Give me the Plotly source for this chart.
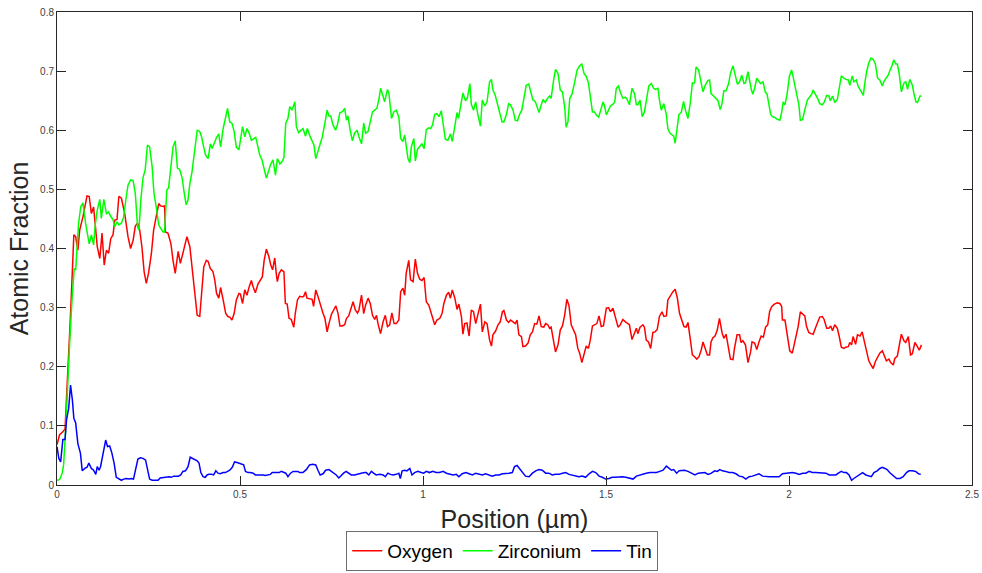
import plotly.graph_objects as go

OXYGEN = [
(0.000,0.068),(0.007,0.085),(0.016,0.090),(0.022,0.095),(0.027,0.160),(0.031,0.228),(0.035,0.262),(0.039,0.318),(0.043,0.370),(0.046,0.423),
(0.051,0.420),(0.057,0.397),(0.062,0.431),(0.071,0.454),(0.082,0.489),(0.088,0.488),(0.094,0.459),(0.100,0.470),(0.105,0.437),(0.110,0.403),
(0.117,0.383),(0.123,0.426),(0.129,0.372),(0.135,0.397),(0.141,0.392),(0.147,0.417),(0.153,0.423),(0.158,0.448),(0.164,0.449),(0.169,0.488),
(0.176,0.485),(0.185,0.459),(0.194,0.420),(0.201,0.400),(0.208,0.414),(0.214,0.438),(0.220,0.443),(0.226,0.431),(0.232,0.403),(0.238,0.361),
(0.244,0.341),(0.250,0.358),(0.258,0.392),(0.264,0.431),(0.271,0.454),(0.278,0.476),(0.283,0.472),(0.290,0.471),(0.294,0.472),(0.296,0.428),
(0.303,0.426),(0.311,0.409),(0.317,0.380),(0.323,0.358),(0.331,0.395),(0.337,0.375),(0.344,0.392),(0.355,0.420),(0.363,0.403),(0.369,0.369),
(0.376,0.330),(0.383,0.287),
(0.390,0.285),(0.395,0.324),(0.401,0.369),(0.408,0.380),(0.413,0.378),(0.419,0.366),(0.426,0.361),(0.431,0.347),(0.436,0.324),(0.442,0.316),
(0.447,0.334),(0.454,0.313),(0.461,0.290),(0.467,0.285),(0.472,0.284),(0.478,0.279),(0.484,0.290),(0.490,0.313),(0.497,0.324),(0.501,0.323),
(0.507,0.307),(0.513,0.330),(0.519,0.321),(0.525,0.335),(0.531,0.346),(0.536,0.335),(0.542,0.325),(0.549,0.340),(0.556,0.346),(0.561,0.352),
(0.566,0.380),(0.572,0.399),(0.579,0.386),(0.584,0.372),(0.589,0.364),(0.595,0.384),(0.599,0.358),(0.602,0.344),(0.607,0.358),(0.613,0.364),
(0.620,0.361),(0.624,0.307),(0.629,0.306),(0.634,0.282),(0.640,0.280),(0.647,0.267),(0.651,0.290),(0.657,0.313),(0.663,0.319),(0.670,0.318),
(0.674,0.319),(0.679,0.327),(0.683,0.316),(0.691,0.315),(0.697,0.314),(0.701,0.302),(0.707,0.330),(0.713,0.319),(0.720,0.302),(0.727,0.290),
(0.732,0.282),(0.738,0.259),(0.743,0.273),(0.750,0.289),(0.756,0.296),(0.762,0.303),(0.768,0.290),(0.773,0.269),(0.779,0.269),
(0.786,0.271),(0.791,0.282),(0.797,0.286),(0.802,0.296),(0.809,0.310),(0.815,0.296),(0.821,0.291),(0.825,0.296),(0.832,0.321),(0.838,0.290),
(0.843,0.304),(0.850,0.316),(0.856,0.307),(0.862,0.287),(0.868,0.280),(0.873,0.287),(0.877,0.273),(0.884,0.256),(0.891,0.276),(0.897,0.287),
(0.903,0.268),(0.909,0.271),(0.915,0.291),(0.921,0.273),(0.927,0.273),(0.934,0.279),(0.939,0.327),(0.945,0.333),(0.950,0.321),(0.954,0.358),
(0.961,0.380),(0.966,0.347),(0.973,0.344),(0.979,0.382),(0.985,0.358),(0.991,0.348),(0.997,0.346),(1.003,0.351),(1.009,0.310),(1.016,0.304),
(1.023,0.290),(1.027,0.282),(1.032,0.271),(1.038,0.279),(1.046,0.282),(1.052,0.290),(1.057,0.307),(1.064,0.321),(1.070,0.326),(1.075,0.316),
(1.080,0.330),(1.087,0.316),(1.093,0.297),(1.098,0.306),(1.105,0.285),(1.109,0.255),(1.114,0.273),(1.120,0.274),(1.126,0.252),(1.132,0.296),
(1.138,0.293),(1.144,0.273),(1.150,0.287),(1.157,0.306),(1.162,0.259),(1.169,0.276),(1.175,0.273),
(1.182,0.245),(1.187,0.235),(1.191,0.254),(1.198,0.260),(1.205,0.271),(1.211,0.276),(1.217,0.293),(1.221,0.295),(1.228,0.279),(1.234,0.275),
(1.239,0.279),(1.246,0.276),(1.252,0.273),(1.257,0.279),(1.262,0.254),(1.269,0.251),(1.273,0.234),(1.280,0.235),(1.287,0.240),(1.293,0.254),
(1.299,0.259),(1.305,0.273),(1.311,0.272),(1.317,0.286),(1.323,0.268),(1.330,0.267),(1.335,0.273),(1.341,0.271),(1.346,0.265),(1.350,0.267),
(1.357,0.242),(1.362,0.225),(1.369,0.237),(1.375,0.262),(1.381,0.269),(1.387,0.287),(1.393,0.314),(1.399,0.303),(1.405,0.271),(1.412,0.262),
(1.417,0.254),(1.423,0.231),(1.428,0.223),(1.434,0.207),(1.440,0.220),(1.446,0.235),(1.452,0.231),(1.457,0.245),(1.463,0.269),(1.469,0.271),
(1.475,0.273),(1.481,0.286),(1.487,0.268),(1.493,0.269),(1.501,0.299),(1.507,0.300),(1.512,0.293),(1.519,0.299),(1.525,0.285),(1.533,0.267),
(1.539,0.271),(1.546,0.280),(1.553,0.276),(1.560,0.273),(1.564,0.271),(1.571,0.246),
(1.578,0.256),(1.583,0.265),(1.587,0.256),(1.593,0.267),(1.601,0.271),(1.605,0.267),(1.610,0.245),(1.616,0.242),(1.622,0.231),(1.628,0.258),
(1.634,0.259),(1.640,0.263),(1.646,0.285),(1.653,0.293),(1.658,0.285),(1.665,0.286),(1.669,0.313),(1.676,0.321),(1.683,0.327),(1.689,0.331),
(1.695,0.316),(1.701,0.290),(1.707,0.280),(1.713,0.268),(1.719,0.267),(1.724,0.275),(1.730,0.248),(1.736,0.220),(1.742,0.217),(1.748,0.213),
(1.754,0.217),(1.760,0.228),(1.765,0.242),(1.771,0.231),(1.777,0.220),(1.783,0.220),(1.787,0.242),(1.792,0.249),(1.798,0.252),(1.804,0.262),
(1.810,0.282),(1.817,0.258),(1.822,0.248),(1.828,0.255),(1.835,0.228),(1.840,0.213),(1.847,0.212),(1.851,0.231),(1.858,0.254),(1.865,0.254),
(1.869,0.241),(1.874,0.244),(1.881,0.237),(1.888,0.207),(1.895,0.225),(1.899,0.242),(1.906,0.240),(1.912,0.229),(1.918,0.242),(1.924,0.252),
(1.930,0.250),(1.936,0.267),(1.942,0.271),(1.947,0.293),(1.953,0.302),(1.960,0.306),(1.968,0.308),
(1.975,0.307),(1.980,0.302),(1.982,0.279),(1.989,0.279),(1.995,0.254),(2.002,0.227),(2.009,0.223),(2.014,0.237),(2.021,0.256),(2.025,0.268),
(2.031,0.293),(2.037,0.289),(2.043,0.286),(2.048,0.268),(2.054,0.258),(2.060,0.256),(2.066,0.255),(2.072,0.265),(2.078,0.276),(2.084,0.284),
(2.091,0.285),(2.096,0.280),(2.103,0.265),(2.109,0.265),(2.114,0.269),(2.119,0.261),(2.125,0.271),(2.132,0.265),(2.137,0.252),(2.143,0.233),
(2.150,0.231),(2.155,0.233),(2.162,0.234),(2.166,0.241),(2.171,0.237),(2.175,0.251),(2.182,0.238),(2.187,0.254),(2.194,0.252),(2.200,0.259),
(2.205,0.245),(2.212,0.225),(2.218,0.210),(2.224,0.203),(2.230,0.197),(2.236,0.209),(2.242,0.217),(2.248,0.223),(2.255,0.227),(2.260,0.218),
(2.266,0.210),(2.273,0.213),(2.278,0.207),(2.285,0.203),(2.289,0.214),(2.296,0.218),(2.301,0.235),(2.307,0.255),(2.314,0.244),(2.319,0.241),
(2.326,0.251),(2.332,0.220),(2.337,0.222),(2.344,0.241),(2.350,0.235),(2.356,0.228),(2.362,0.237),
]

ZIRCONIUM = [
(0.000,0.008),(0.007,0.009),(0.014,0.020),(0.018,0.034),(0.023,0.087),(0.028,0.161),(0.035,0.245),(0.041,0.313),(0.047,0.366),(0.051,0.364),
(0.055,0.397),(0.059,0.443),(0.065,0.471),(0.071,0.477),(0.078,0.443),(0.083,0.428),(0.088,0.408),(0.094,0.423),(0.100,0.406),(0.105,0.443),
(0.110,0.465),(0.117,0.483),(0.121,0.451),(0.128,0.483),(0.135,0.459),(0.141,0.462),(0.147,0.454),(0.153,0.449),(0.158,0.437),(0.164,0.445),
(0.169,0.440),(0.176,0.443),(0.182,0.453),(0.188,0.482),(0.194,0.507),(0.201,0.516),(0.208,0.515),(0.214,0.493),(0.220,0.437),(0.224,0.431),
(0.229,0.482),(0.235,0.520),(0.241,0.533),(0.247,0.575),(0.253,0.572),(0.260,0.538),(0.265,0.493),(0.271,0.471),(0.278,0.440),(0.283,0.434),
(0.290,0.428),(0.294,0.428),(0.300,0.499),(0.305,0.503),(0.311,0.538),(0.317,0.572),(0.323,0.582),(0.329,0.536),(0.335,0.534),(0.342,0.519),
(0.347,0.496),(0.353,0.474),(0.358,0.482),(0.363,0.510),(0.369,0.530),(0.376,0.569),(0.383,0.600),
(0.390,0.598),(0.395,0.589),(0.401,0.571),(0.406,0.558),(0.413,0.552),(0.419,0.577),(0.424,0.569),(0.429,0.578),(0.436,0.588),(0.442,0.594),
(0.447,0.572),(0.454,0.603),(0.460,0.618),(0.466,0.637),(0.472,0.614),(0.478,0.612),(0.484,0.598),(0.490,0.571),(0.497,0.567),(0.501,0.581),
(0.507,0.606),(0.513,0.589),(0.519,0.603),(0.525,0.595),(0.531,0.583),(0.538,0.586),(0.543,0.588),(0.549,0.572),(0.554,0.558),(0.560,0.550),
(0.566,0.533),(0.572,0.519),(0.579,0.533),(0.584,0.543),(0.590,0.550),(0.597,0.524),(0.602,0.552),(0.609,0.543),(0.615,0.547),(0.620,0.554),
(0.625,0.612),(0.631,0.620),(0.636,0.640),(0.642,0.634),(0.650,0.648),(0.654,0.606),(0.660,0.596),(0.666,0.599),(0.672,0.603),(0.679,0.590),
(0.684,0.603),(0.691,0.590),(0.697,0.581),(0.702,0.575),(0.707,0.552),(0.713,0.564),(0.720,0.575),(0.725,0.589),(0.732,0.612),(0.738,0.634),
(0.743,0.624),(0.748,0.624),(0.754,0.609),(0.761,0.600),(0.766,0.609),(0.773,0.630),(0.779,0.631),
(0.786,0.637),(0.791,0.617),(0.795,0.624),(0.801,0.600),(0.807,0.582),(0.813,0.595),(0.820,0.600),(0.825,0.589),(0.832,0.577),(0.838,0.612),
(0.843,0.595),(0.850,0.598),(0.856,0.614),(0.862,0.631),(0.868,0.634),(0.874,0.637),(0.880,0.654),(0.884,0.671),(0.891,0.657),(0.895,0.648),
(0.903,0.669),(0.907,0.662),(0.914,0.620),(0.920,0.631),(0.927,0.634),(0.934,0.622),(0.939,0.586),(0.945,0.581),(0.950,0.592),(0.954,0.569),
(0.959,0.552),(0.964,0.545),(0.968,0.572),(0.975,0.586),(0.979,0.548),(0.985,0.568),(0.991,0.573),(0.997,0.577),(1.003,0.569),(1.009,0.601),
(1.016,0.604),(1.021,0.603),(1.026,0.609),(1.032,0.627),(1.038,0.628),(1.044,0.623),(1.050,0.633),(1.056,0.609),(1.061,0.585),(1.068,0.583),
(1.075,0.594),(1.080,0.581),(1.087,0.605),(1.093,0.630),(1.097,0.620),(1.103,0.640),(1.109,0.663),(1.116,0.650),(1.121,0.654),(1.128,0.679),
(1.132,0.644),(1.138,0.634),(1.144,0.648),(1.150,0.626),(1.157,0.607),(1.162,0.651),(1.169,0.641),(1.175,0.648),
(1.182,0.682),(1.187,0.686),(1.191,0.668),(1.197,0.660),(1.203,0.645),(1.209,0.629),(1.216,0.614),(1.221,0.614),(1.228,0.627),(1.234,0.645),
(1.239,0.643),(1.246,0.634),(1.252,0.617),(1.258,0.616),(1.264,0.627),(1.270,0.634),(1.276,0.657),(1.282,0.676),(1.289,0.678),(1.294,0.665),
(1.300,0.652),(1.307,0.648),(1.311,0.640),(1.317,0.630),(1.323,0.643),(1.328,0.652),(1.334,0.647),(1.340,0.654),(1.346,0.658),(1.350,0.654),
(1.357,0.685),(1.362,0.703),(1.369,0.696),(1.375,0.668),(1.381,0.665),(1.387,0.640),(1.391,0.605),(1.396,0.614),(1.401,0.654),(1.407,0.661),
(1.414,0.680),(1.421,0.702),(1.428,0.709),(1.434,0.712),(1.440,0.696),(1.446,0.691),(1.452,0.680),(1.457,0.660),(1.463,0.631),(1.469,0.631),
(1.473,0.626),(1.480,0.622),(1.485,0.634),(1.492,0.648),(1.496,0.641),(1.501,0.626),(1.507,0.634),(1.512,0.641),(1.519,0.644),(1.524,0.648),
(1.528,0.671),(1.534,0.675),(1.540,0.663),(1.546,0.654),(1.553,0.656),(1.558,0.652),(1.564,0.643),(1.571,0.671),
(1.578,0.662),(1.583,0.643),(1.587,0.643),(1.593,0.651),(1.599,0.623),(1.605,0.631),(1.612,0.657),(1.617,0.675),(1.624,0.679),(1.630,0.671),
(1.635,0.669),(1.642,0.671),(1.646,0.651),(1.651,0.634),(1.658,0.645),(1.665,0.626),(1.669,0.603),(1.675,0.595),(1.681,0.592),(1.685,0.590),
(1.689,0.578),(1.694,0.603),(1.699,0.626),(1.706,0.631),(1.712,0.649),(1.717,0.634),(1.724,0.620),(1.730,0.645),(1.736,0.680),(1.742,0.680),
(1.746,0.707),(1.753,0.702),(1.758,0.688),(1.765,0.665),(1.771,0.676),(1.778,0.684),(1.783,0.685),(1.787,0.662),(1.794,0.658),(1.799,0.654),
(1.806,0.650),(1.812,0.635),(1.817,0.645),(1.822,0.667),(1.828,0.667),(1.835,0.679),(1.840,0.696),(1.847,0.709),(1.853,0.693),(1.859,0.678),
(1.865,0.682),(1.871,0.693),(1.877,0.679),(1.881,0.680),(1.888,0.699),(1.892,0.684),(1.897,0.669),(1.901,0.661),(1.906,0.671),(1.912,0.688),
(1.917,0.684),(1.922,0.679),(1.929,0.682),(1.935,0.665),(1.940,0.661),(1.945,0.643),(1.950,0.627),(1.954,0.623),(1.960,0.622),(1.967,0.619),
(1.975,0.617),(1.980,0.630),(1.984,0.648),(1.989,0.643),(1.995,0.662),(2.001,0.691),(2.007,0.702),(2.011,0.691),(2.016,0.674),(2.022,0.657),
(2.027,0.643),(2.031,0.617),(2.037,0.618),(2.043,0.634),(2.050,0.651),(2.055,0.655),(2.062,0.661),(2.066,0.668),(2.072,0.662),(2.078,0.654),
(2.084,0.645),(2.091,0.643),(2.096,0.647),(2.103,0.659),(2.109,0.658),(2.113,0.650),(2.119,0.658),(2.125,0.647),(2.132,0.652),(2.137,0.671),
(2.143,0.692),(2.150,0.688),(2.155,0.686),(2.162,0.685),(2.166,0.676),(2.173,0.692),(2.177,0.682),(2.184,0.685),(2.189,0.674),(2.195,0.668),
(2.203,0.659),(2.207,0.679),(2.212,0.699),(2.218,0.714),(2.224,0.722),(2.230,0.720),(2.236,0.712),(2.242,0.688),(2.248,0.685),(2.255,0.675),
(2.259,0.682),(2.265,0.688),(2.271,0.693),(2.277,0.703),(2.282,0.710),(2.286,0.719),(2.292,0.712),(2.296,0.712),(2.301,0.696),(2.307,0.665),
(2.314,0.680),(2.319,0.682),(2.324,0.669),(2.330,0.686),(2.337,0.676),(2.342,0.660),(2.347,0.648),(2.351,0.647),(2.358,0.658),(2.362,0.658),
]

TIN = [
(0.000,0.065),(0.005,0.045),(0.010,0.039),(0.016,0.077),(0.022,0.077),(0.026,0.110),(0.032,0.130),(0.037,0.169),(0.042,0.144),(0.046,0.113),
(0.051,0.105),(0.057,0.070),(0.064,0.054),(0.069,0.024),(0.076,0.028),(0.082,0.030),(0.087,0.037),(0.094,0.028),(0.100,0.025),(0.106,0.018),
(0.110,0.031),(0.115,0.025),(0.119,0.031),(0.126,0.054),(0.133,0.076),(0.138,0.065),(0.144,0.066),(0.150,0.054),(0.156,0.037),(0.162,0.013),
(0.169,0.011),(0.176,0.008),(0.182,0.010),(0.189,0.011),(0.197,0.010),(0.203,0.011),(0.209,0.010),(0.215,0.025),(0.221,0.044),(0.228,0.046),
(0.235,0.045),(0.242,0.042),(0.249,0.020),(0.253,0.010),(0.260,0.008),(0.269,0.008),(0.276,0.008),(0.282,0.012),(0.290,0.013),(0.299,0.013),
(0.306,0.014),(0.312,0.013),(0.319,0.015),(0.326,0.015),(0.332,0.015),(0.338,0.017),(0.344,0.023),(0.351,0.024),(0.358,0.031),(0.364,0.047),
(0.370,0.045),(0.376,0.042),(0.383,0.041),(0.388,0.037),(0.393,0.021),(0.399,0.014),(0.405,0.013),(0.410,0.017),(0.415,0.018),(0.422,0.018),
(0.428,0.017),(0.434,0.024),(0.440,0.020),(0.446,0.019),(0.454,0.021),(0.460,0.021),(0.465,0.023),(0.472,0.025),(0.479,0.030),(0.485,0.039),
(0.492,0.038),(0.497,0.037),(0.504,0.036),(0.510,0.034),(0.515,0.023),(0.522,0.021),(0.528,0.021),(0.536,0.020),(0.542,0.017),(0.549,0.017),
(0.556,0.018),(0.563,0.017),(0.569,0.016),(0.577,0.017),(0.583,0.018),(0.588,0.021),(0.595,0.021),(0.601,0.020),(0.607,0.021),(0.613,0.023),
(0.619,0.021),(0.625,0.020),(0.631,0.014),(0.638,0.020),(0.645,0.023),(0.652,0.023),(0.658,0.023),
(0.663,0.021),(0.672,0.021),(0.681,0.026),(0.690,0.034),(0.699,0.035),(0.707,0.034),(0.713,0.025),(0.719,0.017),(0.727,0.019),(0.734,0.025),
(0.743,0.026),(0.750,0.023),(0.756,0.020),(0.763,0.017),(0.770,0.012),(0.777,0.017),(0.783,0.020),(0.790,0.023),(0.798,0.019),(0.804,0.017),
(0.813,0.017),(0.822,0.019),(0.831,0.020),(0.841,0.021),(0.845,0.021),(0.852,0.017),(0.859,0.023),(0.865,0.020),(0.872,0.017),(0.882,0.018),
(0.891,0.017),(0.897,0.014),(0.904,0.020),(0.911,0.018),(0.918,0.017),(0.927,0.018),(0.934,0.020),(0.938,0.011),(0.943,0.024),(0.950,0.025),
(0.956,0.024),(0.964,0.028),(0.970,0.017),(0.977,0.021),(0.986,0.023),(0.995,0.021),(1.002,0.020),(1.009,0.023),(1.018,0.021),(1.027,0.023),
(1.036,0.021),(1.045,0.021),(1.055,0.023),(1.064,0.020),(1.073,0.019),(1.082,0.017),(1.091,0.018),(1.098,0.014),(1.107,0.019),(1.117,0.021),
(1.126,0.019),(1.135,0.017),(1.144,0.020),(1.153,0.018),(1.162,0.017),(1.171,0.019),(1.180,0.017),(1.189,0.015),(1.199,0.017),(1.208,0.017),
(1.217,0.019),(1.226,0.019),(1.235,0.020),(1.244,0.021),(1.250,0.031),(1.257,0.033),(1.264,0.028),(1.271,0.023),(1.280,0.015),(1.290,0.014),
(1.299,0.020),(1.308,0.024),(1.317,0.026),(1.326,0.025),(1.335,0.020),(1.344,0.020),(1.353,0.017),(1.362,0.018),(1.372,0.018),(1.381,0.020),
(1.390,0.021),(1.399,0.018),(1.408,0.017),(1.417,0.015),(1.426,0.014),(1.435,0.015),(1.444,0.013),(1.454,0.019),(1.463,0.023),(1.472,0.021),
(1.481,0.015),(1.490,0.013),(1.499,0.010),(1.508,0.011),(1.517,0.013),(1.526,0.013),(1.535,0.014),(1.545,0.014),(1.554,0.013),
(1.565,0.011),(1.574,0.010),(1.583,0.015),(1.592,0.017),(1.601,0.019),(1.610,0.020),(1.620,0.021),(1.629,0.021),(1.638,0.021),(1.647,0.023),
(1.656,0.025),(1.665,0.032),(1.672,0.028),(1.679,0.025),(1.685,0.026),(1.693,0.020),(1.700,0.024),(1.706,0.024),(1.715,0.025),(1.724,0.023),
(1.733,0.020),(1.743,0.017),(1.752,0.020),(1.761,0.021),(1.770,0.021),(1.779,0.018),(1.788,0.020),(1.797,0.024),(1.804,0.023),(1.811,0.026),
(1.818,0.024),(1.827,0.023),(1.836,0.021),(1.846,0.021),(1.855,0.019),(1.864,0.015),(1.873,0.014),(1.882,0.010),(1.891,0.014),(1.900,0.015),
(1.909,0.017),(1.918,0.019),(1.928,0.015),(1.937,0.014),(1.946,0.014),(1.955,0.014),(1.964,0.014),(1.973,0.014),(1.982,0.019),(1.991,0.020),
(2.000,0.021),(2.009,0.021),(2.019,0.020),(2.028,0.018),(2.037,0.020),(2.046,0.020),(2.055,0.023),(2.064,0.021),(2.073,0.021),(2.082,0.021),
(2.091,0.020),(2.101,0.020),(2.110,0.017),(2.119,0.017),(2.128,0.017),(2.137,0.021),(2.143,0.023),(2.150,0.021),(2.157,0.021),(2.164,0.017),
(2.171,0.008),(2.177,0.011),(2.184,0.014),(2.193,0.019),(2.201,0.021),(2.210,0.017),(2.219,0.015),(2.225,0.014),(2.232,0.021),(2.241,0.024),
(2.248,0.028),(2.255,0.030),(2.262,0.028),(2.268,0.026),(2.275,0.021),(2.285,0.015),(2.294,0.011),(2.303,0.011),(2.312,0.014),(2.321,0.021),
(2.328,0.024),(2.337,0.024),(2.346,0.023),(2.354,0.019),(2.360,0.018),
]

SERIES_NAMES = ["Oxygen", "Zirconium", "Tin"]
X_TICKS = [0, 0.5, 1, 1.5, 2, 2.5]
Y_TICKS = [0, 0.1, 0.2, 0.3, 0.4, 0.5, 0.6, 0.7, 0.8]

FONT = "Liberation Sans, Arial, sans-serif"
AXC = "#262626"

fig = go.Figure()
for name, pts, color in zip(SERIES_NAMES, [OXYGEN, ZIRCONIUM, TIN], ["#ff0000", "#00ff00", "#0000ff"]):
    xs = [p[0] for p in pts]
    ys = [p[1] for p in pts]
    fig.add_trace(go.Scatter(x=xs, y=ys, mode="lines", name=name,
                             line=dict(color=color, width=1.5)))

axis_common = dict(
    showgrid=False, zeroline=False, showline=True, linecolor=AXC, linewidth=1,
    mirror="ticks", ticks="inside", ticklen=9, tickwidth=1, tickcolor=AXC,
    tickfont=dict(family=FONT, size=10, color="#404040"),
    automargin=False, ticklabeloverflow="allow",
)

fig.update_layout(
    width=982, height=573,
    margin=dict(l=57, r=10, t=12, b=88, autoexpand=False),
    paper_bgcolor="white", plot_bgcolor="white",
    font=dict(family=FONT, color=AXC),
    xaxis=dict(range=[0, 2.5], tickvals=X_TICKS, ticktext=[f"{v:g}" for v in X_TICKS],
               title=dict(text="Position (µm)", font=dict(family=FONT, size=25, color=AXC), standoff=11),
               **axis_common),
    yaxis=dict(range=[0, 0.8], tickvals=Y_TICKS, ticktext=[f"{v:g}" for v in Y_TICKS],
               title=dict(text="Atomic Fraction", font=dict(family=FONT, size=25, color=AXC), standoff=4),
               **axis_common),
    legend=dict(orientation="h", x=0.4866, xanchor="center", y=-0.1395, yanchor="middle",
                font=dict(family=FONT, size=19, color="#000000"),
                bordercolor="#6e6e6e", borderwidth=1, bgcolor="white",
                itemwidth=30, tracegroupgap=0),
    showlegend=True,
)

fig.write_html("out.html", config={"displayModeBar": False},
               post_script="document.body.style.margin='0';")
